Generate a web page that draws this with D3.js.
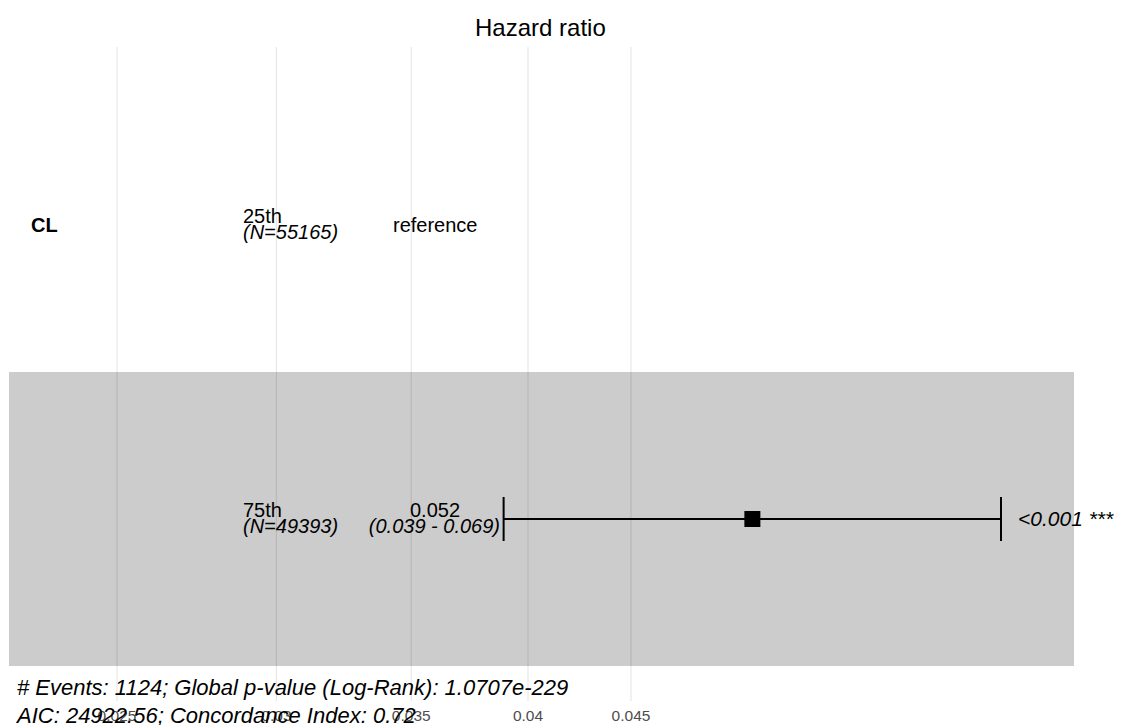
<!DOCTYPE html>
<html>
<head>
<meta charset="utf-8">
<script src="https://cdn.jsdelivr.net/npm/d3@7"></script>
<style>
  html, body { margin: 0; padding: 0; background: #fff; }
  svg { display: block; font-family: "Liberation Sans", Arial, sans-serif; }
</style>
</head>
<body>
<svg id="chart" width="1122" height="725"></svg>
<script>
// Cox model forest plot: hazard ratios for CL levels
const variables = ["CL", ""];
const levels = ["25th", "75th"];
const counts = [55165, 49393];
const hazardRatios = [null, 0.0517];
const ciLower = [null, 0.0389];
const ciUpper = [null, 0.0687];
const pLabels = ["", "<0.001 ***"];
const tickValues = [0.025, 0.03, 0.035, 0.04, 0.045];
const tickLabels = ["0.025", "0.03", "0.035", "0.04", "0.045"];
const footer = [
  "# Events: 1124; Global p-value (Log-Rank): 1.0707e-229",
  "AIC: 24922.56; Concordance Index: 0.72"
];

const svg = d3.select("#chart");

const x = d3.scaleLog().domain([0.025, 0.045]).range([117, 631]);
const y = d3.scaleLinear().domain([0, 1]).range([225, 519]);

// grid lines
svg.append("g").selectAll("line").data(tickValues).join("line")
  .attr("x1", d => x(d)).attr("x2", d => x(d))
  .attr("y1", 47).attr("y2", 701)
  .attr("stroke", "#e6e6e6").attr("stroke-width", 1.1);

// tick labels
svg.append("g").selectAll("text").data(tickValues).join("text")
  .attr("x", d => x(d)).attr("y", 721)
  .attr("text-anchor", "middle")
  .attr("font-size", 15.5).attr("fill", "#4d4d4d")
  .text((d, i) => tickLabels[i]);

// shaded alternate rows
svg.append("g").selectAll("rect").data(levels.map((d, i) => i).filter(i => i % 2 === 1)).join("rect")
  .attr("x", 9).attr("width", 1074 - 9)
  .attr("y", i => y(i - 0.5)).attr("height", i => y(i + 0.5) - y(i - 0.5))
  .attr("fill", "rgba(0,0,0,0.2)");

// title
svg.append("text").attr("x", 541).attr("y", 36)
  .attr("font-size", 24).text("Hazard ratio")
  .attr("x", 475);

const rows = svg.append("g").selectAll("g").data(levels).join("g");

// variable name
rows.append("text").attr("x", 31).attr("y", (d, i) => y(i) + 7)
  .attr("font-size", 20).attr("font-weight", "bold")
  .text((d, i) => variables[i]);

// level and count
rows.append("text").attr("x", 243).attr("y", (d, i) => y(i) - 2)
  .attr("font-size", 20).text(d => d);
rows.append("text").attr("x", 243).attr("y", (d, i) => y(i) + 14)
  .attr("font-size", 20).attr("font-style", "italic")
  .text((d, i) => `(N=${counts[i]})`);

// estimate text
rows.each(function(d, i) {
  const g = d3.select(this);
  if (hazardRatios[i] == null) {
    g.append("text").attr("x", 393).attr("y", y(i) + 7)
      .attr("font-size", 20).text("reference");
    return;
  }
  g.append("text").attr("x", 435).attr("y", y(i) - 2)
    .attr("text-anchor", "middle").attr("font-size", 20)
    .text(hazardRatios[i].toFixed(3));
  g.append("text").attr("x", 500).attr("y", y(i) + 14)
    .attr("text-anchor", "end").attr("font-size", 20).attr("font-style", "italic")
    .text(`(${ciLower[i].toFixed(3)} - ${ciUpper[i].toFixed(3)})`);

  // confidence interval
  const cy = y(i);
  g.append("line").attr("x1", x(ciLower[i])).attr("x2", x(ciUpper[i]))
    .attr("y1", cy).attr("y2", cy).attr("stroke", "#000").attr("stroke-width", 2);
  [ciLower[i], ciUpper[i]].forEach(v => {
    g.append("line").attr("x1", x(v)).attr("x2", x(v))
      .attr("y1", cy - 22).attr("y2", cy + 22)
      .attr("stroke", "#000").attr("stroke-width", 2);
  });
  g.append("rect").attr("x", x(hazardRatios[i]) - 8).attr("y", cy - 8)
    .attr("width", 16).attr("height", 16).attr("fill", "#000");

  g.append("text").attr("x", 1018).attr("y", cy + 7)
    .attr("font-size", 21).attr("font-style", "italic").text(pLabels[i]);
});

// footer annotations
svg.append("g").selectAll("text").data(footer).join("text")
  .attr("x", 17).attr("y", (d, i) => 695 + i * 28)
  .attr("font-size", 22).attr("font-style", "italic")
  .text(d => d);
</script>
</body>
</html>
